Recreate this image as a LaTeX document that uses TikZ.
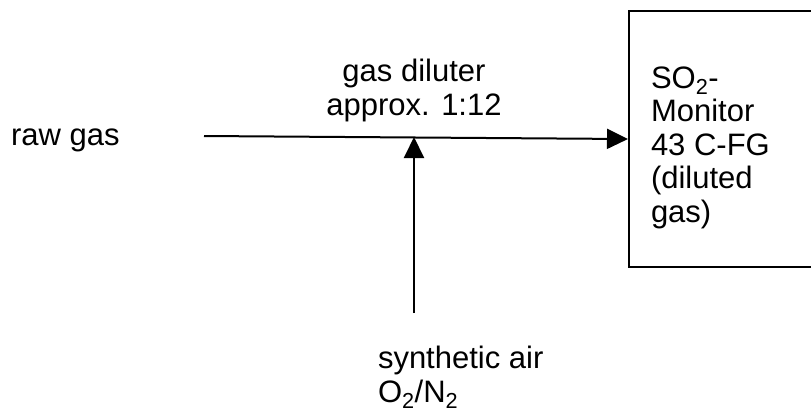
\documentclass[tikz,border=0pt]{standalone}
\usepackage{fontspec}
\setmainfont{Liberation Sans}
\usepackage{tikz}
\usetikzlibrary{arrows.meta, positioning, calc}
\definecolor{FlowBlack}{RGB}{0, 0, 0}

\begin{document}
\begin{tikzpicture}[x=1pt, y=-1pt, line width=2pt,
    flowtext/.style={font=\fontsize{31}{33.5}\selectfont, inner sep=0pt, color=FlowBlack},
    monitorbox/.style={draw=FlowBlack, line width=2pt, minimum width=184pt, minimum height=256pt, inner sep=0pt},
    flowarrow/.style={draw=FlowBlack, -{Triangle[length=21pt, width=20pt]}}]
    \useasboundingbox (0,0) rectangle (811,410);

    % inlet side
    \node[flowtext, anchor=base west] (RawGas) at (10,145) {raw gas};
    \coordinate (GasIn) at (204,136);
    \coordinate (Mix) at (414,137);
    \coordinate (AirIn) at (414,313);
    \node[flowtext, anchor=base, align=center] (Diluter) at (414,115) {gas diluter\\approx. 1:12};
    \node[flowtext, anchor=base west, align=left] (SynAir) at (377,402) {synthetic air\\O\textsubscript{2}/N\textsubscript{2}};

    % analyser box, runs off the right edge
    \node[monitorbox] (Monitor) at (721,139) {};
    \node[flowtext, anchor=base west, align=left] (MonitorText) at (650,222)
          {SO\textsubscript{2}-\\Monitor\\43 C-FG\\(diluted\\gas)};

    \draw[flowarrow] (GasIn) -- (Monitor.west);
    \draw[flowarrow] (AirIn) -- (Mix);
\end{tikzpicture}
\end{document}
